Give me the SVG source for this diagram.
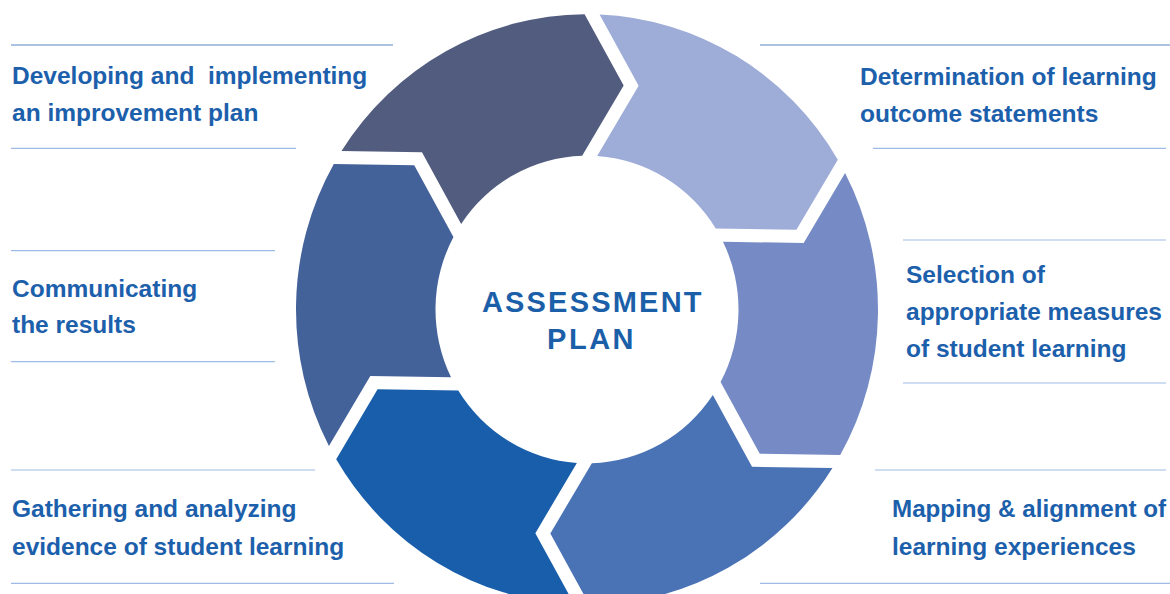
<svg xmlns="http://www.w3.org/2000/svg" xmlns:xlink="http://www.w3.org/1999/xlink" width="1170" height="594" viewBox="0 0 1170 594">
<style>
.lbl{font-family:"Liberation Sans",Arial,sans-serif;font-weight:bold;font-size:24.5px;fill:#1c60ac;white-space:pre}
.ctr{font-family:"Liberation Sans",Arial,sans-serif;font-weight:bold;font-size:29px;fill:#1c5fa9;text-anchor:middle}
.rule{stroke:#9dbbe5;stroke-width:1.2;fill:none}
.rule.top{stroke:#5b85c4}
.s1{fill:#9eacd8}.s2{fill:#768bc5}.s3{fill:#4a73b6}.s4{fill:#185eab}.s5{fill:#44629a}.s6{fill:#515c7f}
</style>
<defs>
<path id="seg" d="M290.90,7.50 A291,291 0 0 1 151.95,248.18 L82.22,208.01 L82.14,127.30 A151.5,151.5 0 0 0 151.31,7.50 L221.25,47.80 Z"/>
</defs>
<rect width="1170" height="594" fill="#ffffff"/>
<g id="ring" transform="translate(587,309.5) scale(1,1.015)">
  <g id="seg-outcomes"><use xlink:href="#seg" href="#seg" class="s1" transform="rotate(-89)"/></g>
  <g id="seg-measures"><use xlink:href="#seg" href="#seg" class="s2" transform="rotate(-29)"/></g>
  <g id="seg-mapping"><use xlink:href="#seg" href="#seg" class="s3" transform="rotate(31)"/></g>
  <g id="seg-gathering"><use xlink:href="#seg" href="#seg" class="s4" transform="rotate(91)"/></g>
  <g id="seg-communicating"><use xlink:href="#seg" href="#seg" class="s5" transform="rotate(151)"/></g>
  <g id="seg-developing"><use xlink:href="#seg" href="#seg" class="s6" transform="rotate(211)"/></g>
</g>
<g id="center">
  <text class="ctr" x="592.8" y="311.5" letter-spacing="2.2">ASSESSMENT</text>
  <text class="ctr" x="591.6" y="349" letter-spacing="2.5">PLAN</text>
</g>
<g id="connectors">
  <line class="rule top" x1="11" y1="45" x2="393" y2="45"/>
  <line class="rule" x1="11" y1="148.3" x2="296" y2="148.3"/>
  <line class="rule" x1="11" y1="250.7" x2="275" y2="250.7"/>
  <line class="rule" x1="11" y1="361.7" x2="275" y2="361.7"/>
  <line class="rule" x1="11" y1="470" x2="315" y2="470"/>
  <line class="rule" x1="11" y1="583.3" x2="394" y2="583.3"/>
  <line class="rule top" x1="760" y1="45" x2="1170" y2="45"/>
  <line class="rule" x1="873" y1="148.3" x2="1166" y2="148.3"/>
  <line class="rule" x1="903" y1="240" x2="1166" y2="240"/>
  <line class="rule" x1="903" y1="383" x2="1166" y2="383"/>
  <line class="rule" x1="875" y1="470" x2="1166" y2="470"/>
  <line class="rule" x1="760" y1="583.3" x2="1170" y2="583.3"/>
</g>
<g id="label-developing">
  <text class="lbl" x="12" y="84" xml:space="preserve">Developing and  implementing</text>
  <text class="lbl" x="12" y="120.5">an improvement plan</text>
</g>
<g id="label-communicating">
  <text class="lbl" x="12" y="296.7">Communicating</text>
  <text class="lbl" x="12" y="332.7">the results</text>
</g>
<g id="label-gathering">
  <text class="lbl" x="12" y="517">Gathering and analyzing</text>
  <text class="lbl" x="12" y="555">evidence of student learning</text>
</g>
<g id="label-outcomes">
  <text class="lbl" x="860" y="85">Determination of learning</text>
  <text class="lbl" x="860" y="121.5">outcome statements</text>
</g>
<g id="label-measures">
  <text class="lbl" x="906" y="283">Selection of</text>
  <text class="lbl" x="906" y="320">appropriate measures</text>
  <text class="lbl" x="906" y="357">of student learning</text>
</g>
<g id="label-mapping">
  <text class="lbl" x="892" y="517" textLength="274" lengthAdjust="spacingAndGlyphs">Mapping &amp; alignment of</text>
  <text class="lbl" x="892" y="554.5">learning experiences</text>
</g>
</svg>
